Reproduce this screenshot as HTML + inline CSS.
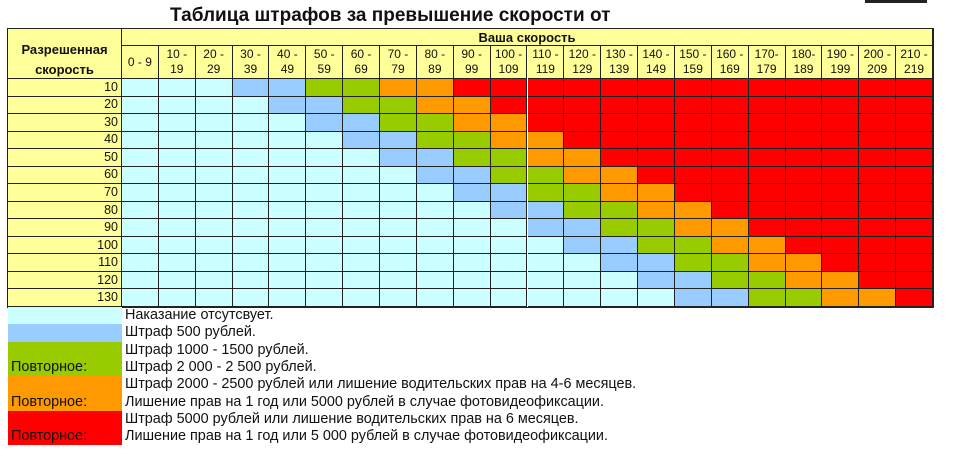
<!DOCTYPE html>
<html><head><meta charset="utf-8">
<style>
body{margin:0;width:960px;height:459px;background:#fff;position:relative;overflow:hidden;font-family:"Liberation Sans",Arial,sans-serif;}
.a{position:absolute;box-sizing:border-box;}
.c{border-right:1px solid #222;border-bottom:1px solid #222;}
.h{background:#ffff99;display:flex;align-items:center;justify-content:center;text-align:center;font-size:12px;line-height:15px;color:#111;}
.t{font-size:14.4px;color:#111;white-space:nowrap;}
</style></head><body>
<div class="a" style="left:170px;top:5px;font-size:19px;font-weight:bold;color:#111;white-space:nowrap;">Таблица штрафов за превышение скорости от</div>
<div class="a" style="left:865px;top:0;width:62px;height:3px;background:#222;"></div>
<div id="tbl"></div>
<div id="leg"></div>
<script>
const speedLimits=["10","20","30","40","50","60","70","80","90","100","110","120","130"];
const speedBins=[["0 - 9"],["10 -","19"],["20 -","29"],["30 -","39"],["40 -","49"],["50 -","59"],["60 -","69"],["70 -","79"],["80 -","89"],["90 -","99"],["100 -","109"],["110 -","119"],["120 -","129"],["130 -","139"],["140 -","149"],["150 -","159"],["160 -","169"],["170-","179"],["180-","189"],["190 -","199"],["200 -","209"],["210 -","219"]];
const penaltyGrid=[
"CCCBBGGOORRRRRRRRRRRRR",
"CCCCBBGGOORRRRRRRRRRRR",
"CCCCCBBGGOORRRRRRRRRRR",
"CCCCCCBBGGOORRRRRRRRRR",
"CCCCCCCBBGGOORRRRRRRRR",
"CCCCCCCCBBGGOORRRRRRRR",
"CCCCCCCCCBBGGOORRRRRRR",
"CCCCCCCCCCBBGGOORRRRRR",
"CCCCCCCCCCCBBGGOORRRRR",
"CCCCCCCCCCCCBBGGOORRRR",
"CCCCCCCCCCCCCBBGGOORRR",
"CCCCCCCCCCCCCCBBGGOORR",
"CCCCCCCCCCCCCCCBBGGOOR"];
const colors={C:"#ccffff",B:"#99ccff",G:"#99cc00",O:"#ff9900",R:"#ff0000"};
const legendCodes=["C","B","G","O","R"];
const legendLines=[["Наказание отсутсвует."],["Штраф 500 рублей."],["Штраф 1000 - 1500 рублей.","Штраф 2 000 - 2 500 рублей."],["Штраф 2000 - 2500 рублей или лишение водительских прав на 4-6 месяцев.","Лишение прав на 1 год или 5000 рублей в случае фотовидеофиксации."],["Штраф 5000 рублей или лишение водительских прав на 6 месяцев.","Лишение прав на 1 год или 5 000 рублей в случае фотовидеофиксации."]];
const repeatLabel=[false,false,true,true,true];

const L=8,X0=122,X1=933,T=29,H1=46,H2=79,B=307;
const cw=(X1-X0)/speedBins.length, rh=(B-H2)/speedLimits.length;
const tbl=document.getElementById('tbl');
function box(parent,x,y,w,h,cls,html){const d=document.createElement('div');d.className='a '+cls;d.style.left=x+'px';d.style.top=y+'px';d.style.width=w+'px';d.style.height=h+'px';if(html!=null)d.innerHTML=html;parent.appendChild(d);return d;}
const frame=box(tbl,L-1,T-1,X1-L+2,B-T+2,'','');frame.style.border='1px solid #222';


let d=box(tbl,L,T,X0-L,H2-T,'c h','<b style="font-size:13px;line-height:20px;display:block;margin-top:12px">Разрешенная<br>скорость</b>');


d=box(tbl,X0,T,X1-X0,H1-T,'c h','<b style="font-size:13px">Ваша скорость</b>');


speedBins.forEach((b,i)=>{const x=X0+i*cw;const e=box(tbl,x,H1,cw,H2-H1,'c h',b.join('<br>'));

});
speedLimits.forEach((s,r)=>{const y=H2+r*rh;
const e=box(tbl,L,y,X0-L,rh,'c h',s);e.style.justifyContent='flex-end';e.style.paddingRight='3px';e.style.fontSize='12.5px';


for(let c=0;c<speedBins.length;c++){const k=penaltyGrid[r][c];const cell=box(tbl,X0+c*cw,y,cw,rh,'c','');cell.style.background=colors[k];

}});
const leg=document.getElementById('leg');const lh=17.3;let y=B;
legendCodes.forEach((k,i)=>{const n=legendLines[i].length;const sw=box(leg,L,y,X0-L,n*lh,'','');sw.style.background=colors[k];


if(repeatLabel[i]){const p=box(leg,L+3,y+lh,110,lh,'t','Повторное:');p.style.lineHeight=lh+'px';

}
legendLines[i].forEach((t,j)=>{const e=box(leg,125,y+j*lh,820,lh,'t',t);e.style.lineHeight=lh+'px';

});
y+=n*lh;});
</script>
</body></html>
